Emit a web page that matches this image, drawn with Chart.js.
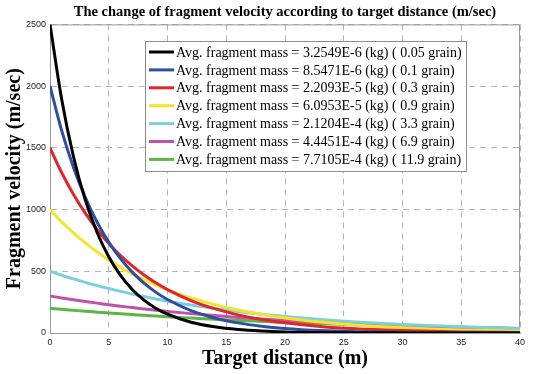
<!DOCTYPE html>
<html>
<head>
<meta charset="utf-8">
<script src="https://cdn.jsdelivr.net/npm/chart.js@4"></script>
<style>
    html, body { margin: 0; padding: 0; background: #fff; }
    #wrap { width: 534px; height: 374px; }
</style>
</head>
<body>
<div id="wrap"><canvas id="myChart" width="534" height="374"></canvas></div>
<script>
    // target distance (m)
    const distances = [0, 1, 2, 3, 4, 5, 6, 7, 8, 9, 10, 12, 14, 16, 18, 20, 23, 26, 30, 35, 40];

    // fragment velocity (m/sec)
    const v005 = [2500, 1890, 1428, 1079, 816, 617, 466, 352, 266, 201, 152, 87, 50, 28, 16, 9, 4, 2, 1, 0, 0];
    const v01  = [2000, 1637, 1341, 1098, 899, 736, 602, 493, 404, 331, 271, 181, 122, 82, 55, 37, 20, 11, 5, 2, 1];
    const v03  = [1500, 1298, 1122, 971, 840, 726, 628, 544, 470, 407, 352, 263, 197, 147, 110, 83, 53, 34, 20, 9, 5];
    const v09  = [1000, 900, 811, 730, 657, 592, 533, 479, 432, 389, 350, 284, 230, 186, 151, 122, 89, 65, 43, 25, 15];
    const v33  = [500, 468, 438, 410, 384, 360, 337, 315, 295, 276, 258, 226, 198, 174, 152, 134, 110, 90, 69, 50, 36];
    const v69  = [300, 284, 269, 255, 242, 229, 217, 206, 195, 185, 175, 157, 141, 126, 113, 102, 87, 74, 59, 45, 35];
    const v119 = [200, 192, 184, 176, 169, 162, 155, 149, 143, 137, 131, 121, 111, 102, 94, 86, 76, 67, 57, 46, 37];

    const seriesLabels = [
        'Avg. fragment mass = 3.2549E-6 (kg) ( 0.05 grain)',
        'Avg. fragment mass = 8.5471E-6 (kg) ( 0.1 grain)',
        'Avg. fragment mass = 2.2093E-5 (kg) ( 0.3 grain)',
        'Avg. fragment mass = 6.0953E-5 (kg) ( 0.9 grain)',
        'Avg. fragment mass = 2.1204E-4 (kg) ( 3.3 grain)',
        'Avg. fragment mass = 4.4451E-4 (kg) ( 6.9 grain)',
        'Avg. fragment mass = 7.7105E-4 (kg) ( 11.9 grain)'
    ];
    const seriesValues = [v005, v01, v03, v09, v33, v69, v119];
    const seriesColors = ['#000000', '#2f4ea2', '#e0262a', '#f3e629', '#7ccfdf', '#c052a8', '#5db543'];

    const xTicks = [0, 5, 10, 15, 20, 25, 30, 35, 40];
    const yTicks = [0, 500, 1000, 1500, 2000, 2500];

    const serif = "'Liberation Serif', 'Times New Roman', serif";
    const sans = "'Liberation Sans', Arial, sans-serif";

    // box round the plot, like a matlab axes
    const boxPlugin = {
        id: 'box',
        beforeDatasetsDraw(chart) {
            const a = chart.chartArea;
            const ctx = chart.ctx;
            ctx.save();
            ctx.strokeStyle = '#9a9a9a';
            ctx.lineWidth = 1;
            ctx.strokeRect(a.left + 0.5, a.top + 0.5, a.right - a.left - 1, a.bottom - a.top);
            ctx.restore();
        }
    };

    // legend box inside the plot
    const legendBoxPlugin = {
        id: 'legendBox',
        afterDraw(chart) {
            const ctx = chart.ctx;
            const left = 145, top = 41, width = 321, height = 130;
            const rowH = 17.9;
            ctx.save();
            ctx.fillStyle = '#ffffff';
            ctx.fillRect(left, top, width, height);
            ctx.strokeStyle = '#8c8c8c';
            ctx.lineWidth = 1;
            ctx.strokeRect(left + 0.5, top + 0.5, width, height);
            ctx.font = '14px ' + serif;
            ctx.textBaseline = 'middle';
            ctx.textAlign = 'left';
            chart.data.datasets.forEach(function (ds, i) {
                const y = top + 11 + i * rowH;
                ctx.strokeStyle = ds.borderColor;
                ctx.lineWidth = 3;
                ctx.beginPath();
                ctx.moveTo(left + 4, y);
                ctx.lineTo(left + 29, y);
                ctx.stroke();
                ctx.fillStyle = '#000';
                ctx.fillText(ds.label, left + 31, y + 1);
            });
            ctx.restore();
        }
    };

    const datasets = seriesValues.map(function (vals, i) {
        return {
            label: seriesLabels[i],
            data: distances.map((d, j) => ({ x: d, y: vals[j] })),
            borderColor: seriesColors[i],
            backgroundColor: seriesColors[i],
            borderWidth: 3,
            pointRadius: 0,
            cubicInterpolationMode: 'monotone',
            fill: false
        };
    });

    const config = {
        type: 'line',
        data: { datasets: datasets },
        options: {
            responsive: false,
            animation: false,
            layout: { padding: { left: 0, right: 14, top: 0, bottom: 0 } },
            plugins: {
                legend: { display: false },
                tooltip: { enabled: false },
                title: {
                    display: true,
                    fullSize: false,
                    text: 'The change of fragment velocity according to target distance (m/sec)',
                    color: '#000',
                    font: { family: serif, size: 14.5, weight: 'bold' },
                    padding: { top: 4, bottom: 3 }
                }
            },
            scales: {
                x: {
                    type: 'linear',
                    min: 0,
                    max: 40,
                    afterBuildTicks(scale) {
                        scale.ticks = xTicks.map(v => ({ value: v }));
                    },
                    afterFit(scale) { scale.height = 41; },
                    ticks: {
                        color: '#222',
                        font: { family: sans, size: 9 },
                        padding: 4,
                        maxRotation: 0,
                        autoSkip: false,
                        callback: v => String(v)
                    },
                    grid: { color: '#b4b4b4', lineWidth: 1, drawTicks: false },
                    border: { color: '#9a9a9a', dash: [6, 5] },
                    title: {
                        display: true,
                        text: 'Target distance (m)',
                        color: '#000',
                        font: { family: serif, size: 20, weight: 'bold' },
                        padding: { top: 0, bottom: 3 }
                    }
                },
                y: {
                    min: 0,
                    max: 2500,
                    afterBuildTicks(scale) {
                        scale.ticks = yTicks.map(v => ({ value: v }));
                    },
                    afterFit(scale) { scale.width = 50; },
                    ticks: {
                        color: '#222',
                        font: { family: sans, size: 9 },
                        padding: 4,
                        autoSkip: false,
                        callback: v => String(v)
                    },
                    grid: { color: '#b4b4b4', lineWidth: 1, drawTicks: false },
                    border: { color: '#9a9a9a', dash: [6, 5] },
                    title: {
                        display: true,
                        text: 'Fragment velocity (m/sec)',
                        color: '#000',
                        font: { family: serif, size: 20, weight: 'bold' },
                        padding: { top: 3, bottom: 0 }
                    }
                }
            }
        },
        plugins: [boxPlugin, legendBoxPlugin]
    };

    new Chart(document.getElementById('myChart').getContext('2d'), config);
</script>
</body>
</html>
